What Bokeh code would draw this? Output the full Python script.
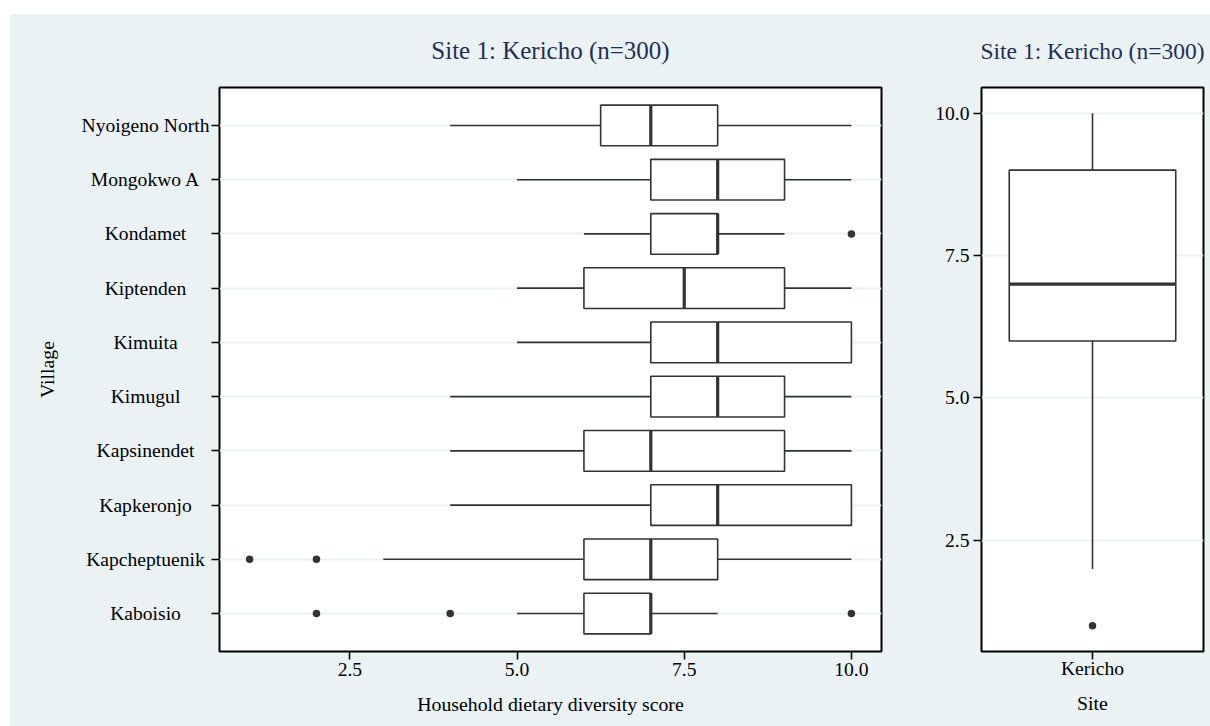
from bokeh.plotting import figure
from bokeh.models import (FactorRange, Range1d, FixedTicker, PrintfTickFormatter,
                          ColumnDataSource)
from bokeh.core.properties import value
from bokeh.layouts import row
from bokeh.embed import file_html
from bokeh.resources import INLINE
import math

# ---------------- data ----------------
villages = ["Kaboisio", "Kapcheptuenik", "Kapkeronjo", "Kapsinendet", "Kimugul",
            "Kimuita", "Kiptenden", "Kondamet", "Mongokwo A", "Nyoigeno North"]
v_lower = [5, 3, 4, 4, 4, 5, 5, 6, 5, 4]
v_q1 = [6, 6, 7, 6, 7, 7, 6, 7, 7, 6.25]
v_median = [7, 7, 8, 7, 8, 8, 7.5, 8, 8, 7]
v_q3 = [7, 8, 10, 9, 9, 10, 9, 8, 9, 8]
v_upper = [8, 10, 10, 10, 10, 10, 10, 9, 10, 10]
out_village = ["Kaboisio", "Kaboisio", "Kaboisio", "Kapcheptuenik", "Kapcheptuenik", "Kondamet"]
out_value = [2, 4, 10, 1, 2, 10]

sites = ["Kericho"]
s_lower = [2]
s_q1 = [6]
s_median = [7]
s_q3 = [9]
s_upper = [10]
s_out_site = ["Kericho"]
s_out_value = [1]

score_ticks = [2.5, 5.0, 7.5, 10.0]
score_start, score_end = 0.55, 10.45
title_text = "Site 1: Kericho (n=300)"

# ---------------- style ----------------
BG = "#eaf2f3"
LINE = "#333333"
FONT = "Liberation Serif"
TITLE_COLOR = "#1f2f57"
TICK_FS = "19.6px"
LAB_FS = "19.8px"
H = 712
TOP, BOTTOM = 73, 75
STRIP_W = 200


def style(p, title_size):
    p.title.text = title_text
    p.title.align = "center"
    p.title.vertical_align = "top"
    p.title.text_font = FONT
    p.title.text_font_size = title_size
    p.title.text_font_style = "normal"
    p.title.text_color = TITLE_COLOR
    p.title.standoff = 43
    p.outline_line_color = "black"
    p.outline_line_width = 2
    for ax in (p.xaxis[0], p.yaxis[0]):
        ax.axis_line_color = None
        ax.major_tick_out = 8
        ax.major_tick_in = 0
        ax.minor_tick_line_color = None
        ax.major_tick_line_color = "black"
        ax.major_tick_line_width = 1.5
        ax.major_label_text_font = FONT
        ax.major_label_text_font_size = TICK_FS
        ax.major_label_text_color = "black"
        ax.axis_label_text_font = FONT
        ax.axis_label_text_font_size = LAB_FS
        ax.axis_label_text_font_style = "normal"
        ax.axis_label_text_color = "black"
    p.xgrid.grid_line_color = None
    p.ygrid.grid_line_color = BG
    p.ygrid.grid_line_width = 2


village_range = FactorRange(factors=villages, range_padding=0.2, range_padding_units="absolute")
src = ColumnDataSource(dict(village=villages, lower=v_lower, q1=v_q1, median=v_median,
                            q3=v_q3, upper=v_upper))

# ---------------- left label strip (village names centred, "Village" title) ----------------
p0 = figure(width=STRIP_W, height=H, x_range=Range1d(0, STRIP_W), y_range=village_range,
            x_axis_location=None, y_axis_location=None,
            output_backend="svg", toolbar_location=None,
            min_border_left=0, min_border_right=0, min_border_top=TOP, min_border_bottom=BOTTOM,
            background_fill_color=BG, border_fill_color=BG, outline_line_color=None)
p0.xgrid.grid_line_color = None
p0.ygrid.grid_line_color = None
p0.text(x=135, y="village", text="village", source=src,
        text_align="center", text_baseline="middle",
        text_font=value(FONT), text_font_size=value(TICK_FS), text_color="black")
p0.text(x=[36], y=[len(villages) / 2], text=["Village"], angle=math.pi / 2,
        text_align="center", text_baseline="middle",
        text_font=value(FONT), text_font_size=value(LAB_FS), text_color="black")

# ---------------- left panel ----------------
p1 = figure(width=890 - STRIP_W, height=H, y_range=village_range,
            x_range=Range1d(score_start, score_end),
            output_backend="svg", toolbar_location=None,
            min_border_left=9, min_border_right=19, min_border_top=TOP, min_border_bottom=BOTTOM,
            background_fill_color="white", border_fill_color=BG)
style(p1, "25px")
p1.xaxis.ticker = FixedTicker(ticks=score_ticks)
p1.xaxis.formatter = PrintfTickFormatter(format="%.1f")
p1.xaxis.major_label_standoff = 3
p1.xaxis.axis_label = "Household dietary diversity score"
p1.xaxis.axis_label_standoff = 14
p1.yaxis.major_label_text_font_size = "0px"
p1.yaxis.major_label_text_color = None
p1.yaxis.major_label_standoff = 0

p1.segment(x0="lower", x1="q1", y0="village", y1="village", line_color=LINE, line_width=1.6, source=src)
p1.segment(x0="q3", x1="upper", y0="village", y1="village", line_color=LINE, line_width=1.6, source=src)
p1.hbar(y="village", left="q1", right="q3", height=0.75, fill_color="white",
        line_color=LINE, line_width=1.6, source=src)
p1.rect(x="median", y="village", width=3.2, width_units="screen", height=0.75,
        fill_color=LINE, line_color=None, source=src)
p1.scatter(x=out_value, y=out_village, size=7.5, fill_color=LINE, line_color=None)

# ---------------- right panel ----------------
src2 = ColumnDataSource(dict(site=sites, lower=s_lower, q1=s_q1, median=s_median,
                             q3=s_q3, upper=s_upper))
p2 = figure(width=310, height=H,
            x_range=FactorRange(factors=sites, range_padding=0),
            y_range=Range1d(score_start, score_end),
            output_backend="svg", toolbar_location=None,
            min_border_left=81, min_border_right=7, min_border_top=TOP, min_border_bottom=BOTTOM,
            background_fill_color="white", border_fill_color=BG)
style(p2, "23.5px")
p2.yaxis.ticker = FixedTicker(ticks=score_ticks)
p2.yaxis.formatter = PrintfTickFormatter(format="%.1f")
p2.yaxis.major_label_standoff = 4
p2.xaxis.major_label_standoff = -2
p2.xaxis.axis_label = "Site"
p2.xaxis.axis_label_standoff = 10

p2.segment(x0="site", x1="site", y0="lower", y1="q1", line_color=LINE, line_width=1.6, source=src2)
p2.segment(x0="site", x1="site", y0="q3", y1="upper", line_color=LINE, line_width=1.6, source=src2)
p2.vbar(x="site", bottom="q1", top="q3", width=0.75, fill_color="white",
        line_color=LINE, line_width=1.6, source=src2)
p2.rect(x="site", y="median", width=0.75, height=3.2, height_units="screen",
        fill_color=LINE, line_color=None, source=src2)
p2.scatter(x=s_out_site, y=s_out_value, size=7.5, fill_color=LINE, line_color=None)

layout = row(p0, p1, p2)
layout.margin = (14, 0, 0, 10)
layout.styles = {"background-color": BG}

open("out.html", "w").write(file_html(layout, INLINE))
